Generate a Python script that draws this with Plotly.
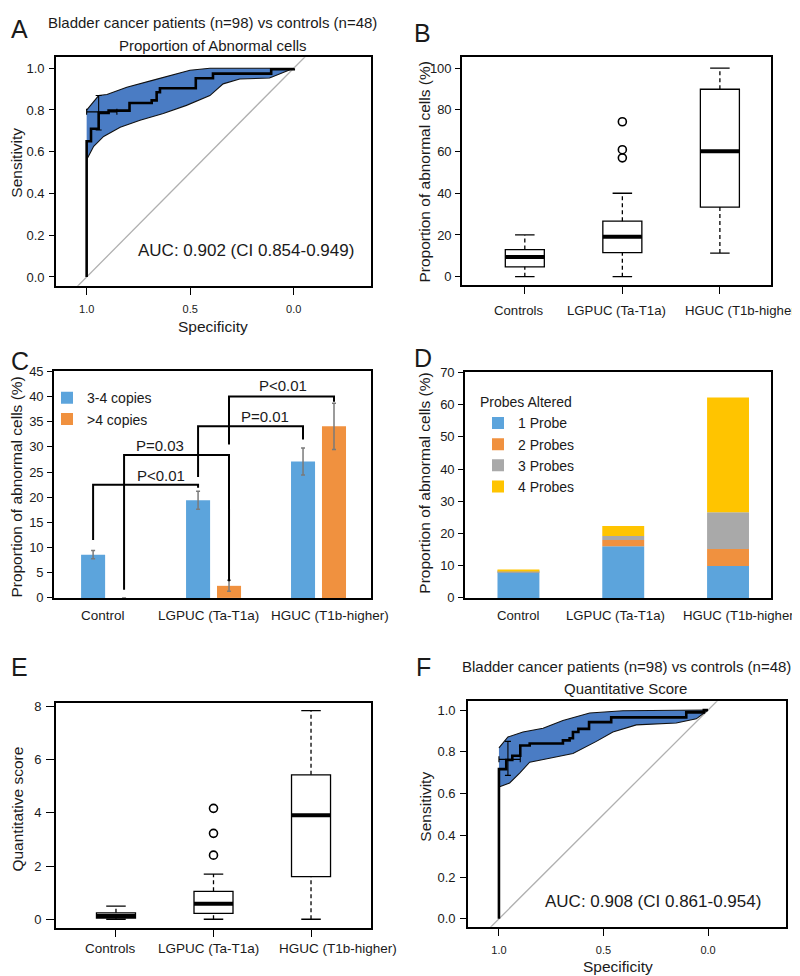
import plotly.graph_objects as go

W, H = 800, 976
FONT = "Liberation Sans, Arial, Helvetica, sans-serif"
INK = "#1a1a1a"

# ---------------- DATA ----------------
# Panel A: ROC, proportion of abnormal cells (specificity, sensitivity)
roc_a_spec = [1.0, 0.979, 0.942, 0.894, 0.793, 0.686, 0.662, 0.646, 0.473, 0.39, 0.109, 0.0, 0.0]
roc_a_sens = [0.0, 0.65, 0.71, 0.786, 0.797, 0.833, 0.846, 0.885, 0.904, 0.952, 0.974, 0.995, 1.0]
ci_a_up_spec = [1.0, 0.942, 0.902, 0.806, 0.678, 0.582, 0.501, 0.405, 0.0]
ci_a_up_sens = [0.799, 0.869, 0.874, 0.909, 0.943, 0.968, 0.99, 1.0, 1.0]
ci_a_lo_spec = [1.0, 0.966, 0.918, 0.838, 0.742, 0.63, 0.518, 0.405, 0.341, 0.261, 0.117, 0.0]
ci_a_lo_sens = [0.562, 0.626, 0.673, 0.717, 0.751, 0.783, 0.822, 0.869, 0.925, 0.948, 0.953, 1.0]
cross_a = dict(spec=0.942, sens=0.791, spec_lo=0.854, spec_hi=1.0, sens_lo=0.704, sens_hi=0.869)
auc_a = "AUC: 0.902 (CI 0.854-0.949)"

# Panel F: ROC, quantitative score
roc_f_spec = [1.0, 0.965, 0.936, 0.898, 0.853, 0.694, 0.662, 0.646, 0.62, 0.569, 0.463, 0.104, 0.02, 0.0]
roc_f_sens = [0.0, 0.717, 0.761, 0.781, 0.83, 0.840, 0.855, 0.865, 0.895, 0.91, 0.942, 0.965, 0.989, 1.0]
ci_f_up_spec = [1.0, 0.957, 0.885, 0.789, 0.694, 0.566, 0.407, 0.0]
ci_f_up_sens = [0.819, 0.871, 0.895, 0.913, 0.95, 0.986, 0.997, 1.0]
ci_f_lo_spec = [1.0, 0.949, 0.901, 0.853, 0.758, 0.646, 0.534, 0.455, 0.343, 0.152, 0.056, 0.0]
ci_f_lo_sens = [0.631, 0.651, 0.698, 0.75, 0.769, 0.792, 0.85, 0.895, 0.929, 0.938, 0.958, 1.0]
cross_f = dict(spec=0.957, sens=0.764, spec_lo=0.898, spec_hi=1.0, sens_lo=0.687, sens_hi=0.85)
auc_f = "AUC: 0.908 (CI 0.861-0.954)"

roc_title_1 = "Bladder cancer patients (n=98) vs controls (n=48)"
roc_a_title_2 = "Proportion of Abnormal cells"
roc_f_title_2 = "Quantitative Score"

# Box plots
box_groups = ["Controls", "LGPUC (Ta-T1a)", "HGUC (T1b-higher)"]
# Panel B: proportion of abnormal cells (%)
b_low = [0.0, 0.0, 11.3]
b_q1 = [4.7, 11.5, 33.4]
b_med = [9.4, 19.1, 60.2]
b_q3 = [13.0, 26.6, 89.9]
b_high = [20.0, 40.0, 100.0]
b_out = [[], [74.3, 60.9, 57.0], []]
# Panel E: quantitative score
e_low = [0.0, 0.0, 0.0]
e_q1 = [0.04, 0.22, 1.60]
e_med = [0.12, 0.58, 3.91]
e_q3 = [0.24, 1.05, 5.43]
e_high = [0.49, 1.70, 7.84]
e_out = [[], [2.41, 3.23, 4.17], []]

# Panel C: copies
bar_groups = ["Control", "LGPUC (Ta-T1a)", "HGUC (T1b-higher)"]
c_34 = [8.6, 19.4, 27.1]
c_34_err = [0.8, 1.8, 2.7]
c_gt4 = [0.0, 2.4, 34.1]
c_gt4_err = [0.0, 1.1, 4.6]
# brackets: (left group, left series, left foot, top, right group, right series, right foot, label, label x, label y)
brackets = [
    (0, "34", 11.5, 22.5, 1, "34", 21.9, "P<0.01", 0.50, 24.4),
    (0, "gt4", 1.6, 28.4, 1, "gt4", 3.3, "P=0.03", 0.49, 30.3),
    (1, "34", 24.0, 34.1, 2, "34", 31.5, "P=0.01", 1.49, 36.1),
    (1, "gt4", 30.5, 40.0, 2, "gt4", 39.0, "P<0.01", 1.66, 42.3),
]

# Panel D: probes altered (stacked)
d_names = ["1 Probe", "2 Probes", "3 Probes", "4 Probes"]
d_vals = [
    [8.1, 16.0, 9.9],
    [0.1, 2.0, 5.3],
    [0.1, 1.2, 11.4],
    [0.4, 3.1, 35.6],
]

# ---------------- STYLE ----------------
BAND = "#4A7CC4"
BLUE = "#5CA4DC"
ORANGE = "#F0913F"
GRAY = "#A9A9A9"
YELLOW = "#FFC400"
d_colors = [BLUE, ORANGE, GRAY, YELLOW]
C_W = 0.229
C_OFF = {"34": -0.262, "gt4": 0.033}
# horizontal placement nudges of the category labels (category units), as in the source figure
LBL_SHIFT_B = [-0.06, -0.056, 0.23]
LBL_SHIFT_E = [-0.06, -0.056, 0.28]
LBL_SHIFT_C = [-0.052, -0.052, 0.105]
LBL_SHIFT_D = [0.0, -0.07, 0.12]

fig = go.Figure()


def roc(ax, ay, spec, sens, up_s, up_v, lo_s, lo_v, cross, auc, auc_xy):
    fig.add_trace(go.Scatter(x=[1.3, -0.3], y=[-0.3, 1.3], mode="lines",
                             line=dict(color="#b0b0b0", width=1.3),
                             xaxis=ax, yaxis=ay, showlegend=False, hoverinfo="skip"))
    fig.add_trace(go.Scatter(x=up_s + lo_s[::-1], y=up_v + lo_v[::-1], mode="lines",
                             fill="toself", fillcolor=BAND,
                             line=dict(color="#111", width=1.1),
                             xaxis=ax, yaxis=ay, showlegend=False, hoverinfo="skip"))
    fig.add_trace(go.Scatter(x=spec, y=sens, mode="lines", line=dict(color="#000", width=2.6, shape="vh"),
                             xaxis=ax, yaxis=ay, showlegend=False))
    fig.add_trace(go.Scatter(
        x=[cross["spec"]], y=[cross["sens"]], mode="markers",
        marker=dict(size=1, color="#000"),
        error_x=dict(type="data", symmetric=False,
                     array=[cross["spec_hi"] - cross["spec"]],
                     arrayminus=[cross["spec"] - cross["spec_lo"]],
                     color="#000", thickness=1.1, width=3),
        error_y=dict(type="data", symmetric=False,
                     array=[cross["sens_hi"] - cross["sens"]],
                     arrayminus=[cross["sens"] - cross["sens_lo"]],
                     color="#000", thickness=1.1, width=3),
        xaxis=ax, yaxis=ay, showlegend=False))
    fig.add_annotation(x=auc_xy[0], y=auc_xy[1], xref=ax, yref=ay, text=auc, showarrow=False,
                       font=dict(size=17, color=INK, family=FONT))


roc("x", "y", roc_a_spec, roc_a_sens, ci_a_up_spec, ci_a_up_sens, ci_a_lo_spec, ci_a_lo_sens,
    cross_a, auc_a, (0.231, 0.127))
roc("x6", "y6", roc_f_spec, roc_f_sens, ci_f_up_spec, ci_f_up_sens, ci_f_lo_spec, ci_f_lo_sens,
    cross_f, auc_f, (0.261, 0.085))

BOX_HALF = 0.2
CAP_HALF = 0.1


def boxes(ax, ay, low, q1, med, q3, high, outs):
    pos = [1, 2, 3]
    fig.add_trace(go.Box(x=pos, q1=q1, median=med, q3=q3, lowerfence=q1, upperfence=q3,
                         width=2 * BOX_HALF, fillcolor="white", line=dict(color="#000", width=1.3),
                         boxpoints=False, xaxis=ax, yaxis=ay, showlegend=False))
    mx, my, wx, wy, cx, cy, ox, oy = [], [], [], [], [], [], [], []
    for p, lo, a, m, b, hi, o in zip(pos, low, q1, med, q3, high, outs):
        mx += [p - BOX_HALF, p + BOX_HALF, None]
        my += [m, m, None]
        wx += [p, p, None, p, p, None]
        wy += [lo, a, None, b, hi, None]
        cx += [p - CAP_HALF, p + CAP_HALF, None, p - CAP_HALF, p + CAP_HALF, None]
        cy += [lo, lo, None, hi, hi, None]
        ox += [p] * len(o)
        oy += o
    fig.add_trace(go.Scatter(x=wx, y=wy, mode="lines", line=dict(color="#000", width=1.3, dash="4px,3px"),
                             xaxis=ax, yaxis=ay, showlegend=False, hoverinfo="skip"))
    fig.add_trace(go.Scatter(x=cx, y=cy, mode="lines", line=dict(color="#000", width=1.3),
                             xaxis=ax, yaxis=ay, showlegend=False, hoverinfo="skip"))
    fig.add_trace(go.Scatter(x=mx, y=my, mode="lines", line=dict(color="#000", width=4),
                             xaxis=ax, yaxis=ay, showlegend=False, hoverinfo="skip"))
    fig.add_trace(go.Scatter(x=ox, y=oy, mode="markers",
                             marker=dict(symbol="circle-open", size=8, color="#000", line=dict(width=1.6)),
                             xaxis=ax, yaxis=ay, showlegend=False))


boxes("x2", "y2", b_low, b_q1, b_med, b_q3, b_high, b_out)
boxes("x5", "y5", e_low, e_q1, e_med, e_q3, e_high, e_out)

# Panel C bars
gpos = [0, 1, 2]
fig.add_trace(go.Bar(x=gpos, y=c_34, width=C_W, offset=C_OFF["34"], name="3-4 copies",
                     marker=dict(color=BLUE, line=dict(width=0)),
                     error_y=dict(type="data", array=c_34_err, color="#7a7a7a", thickness=1.5, width=2),
                     xaxis="x3", yaxis="y3", legend="legend"))
fig.add_trace(go.Bar(x=gpos, y=c_gt4, width=C_W, offset=C_OFF["gt4"], name=">4 copies",
                     marker=dict(color=ORANGE, line=dict(width=0)),
                     error_y=dict(type="data", array=c_gt4_err, color="#7a7a7a", thickness=1.5, width=2),
                     xaxis="x3", yaxis="y3", legend="legend"))
bx, by = [], []
for lg, ls, lf, top, rg, rs, rf, lab, labx, laby in brackets:
    xl = lg + C_OFF[ls] + C_W / 2
    xr = rg + C_OFF[rs] + C_W / 2
    bx += [xl, xl, xr, xr, None]
    by += [lf, top, top, rf, None]
    fig.add_annotation(x=labx, y=laby, xref="x3", yref="y3", text=lab, showarrow=False,
                       font=dict(size=15, color=INK, family=FONT))
fig.add_trace(go.Scatter(x=bx, y=by, mode="lines", line=dict(color="#000", width=2),
                         xaxis="x3", yaxis="y3", showlegend=False, hoverinfo="skip"))

# Panel D stacked bars
base = [0.0, 0.0, 0.0]
for name, vals, col in zip(d_names, d_vals, d_colors):
    fig.add_trace(go.Bar(x=gpos, y=vals, base=list(base), width=0.4, offset=-0.2, name=name,
                         marker=dict(color=col, line=dict(width=0)),
                         xaxis="x4", yaxis="y4", legend="legend2"))
    base = [b + v for b, v in zip(base, vals)]

# ---------------- LAYOUT ----------------
def dom_x(a, b):
    return [a / W, b / W]


def dom_y(top, bot):
    return [1 - bot / H, 1 - top / H]


frame = dict(showline=True, mirror=True, linecolor="#000", linewidth=1.6, showgrid=False,
             zeroline=False, tickcolor="#000", tickwidth=1.3, color=INK, tickangle=0)

roc_ticks = [0.0, 0.2, 0.4, 0.6, 0.8, 1.0]
layout = dict(
    width=W, height=H, margin=dict(l=0, r=0, t=0, b=0),
    paper_bgcolor="white", plot_bgcolor="white",
    font=dict(family=FONT, color=INK),
    barmode="overlay",
    xaxis=dict(frame, domain=dom_x(48, 363), anchor="y", range=[1.148, -0.373],
               tickvals=[1.0, 0.5, 0.0], ticktext=["1.0", "0.5", "0.0"], ticks="outside", ticklen=7,
               tickfont=dict(size=11), ticklabelstandoff=5),
    yaxis=dict(frame, domain=dom_y(43, 275), anchor="x", range=[-0.042, 1.052],
               tickvals=roc_ticks, ticktext=[f"{v:.1f}" for v in roc_ticks], ticks="outside",
               ticklen=5, tickfont=dict(size=13), ticklabelstandoff=2),
    xaxis2=dict(frame, domain=dom_x(454, 763), anchor="y2", range=[0.356, 3.524],
                tickvals=[1, 2, 3], ticks="outside", ticklen=7, showticklabels=False),
    yaxis2=dict(frame, domain=dom_y(43, 274), anchor="x2", range=[-3.9, 105.2],
                tickvals=[0, 20, 40, 60, 80, 100], ticks="outside", ticklen=5,
                tickfont=dict(size=13), ticklabelstandoff=1),
    xaxis3=dict(frame, domain=dom_x(46, 363), anchor="y3", range=[-0.52, 2.5],
                tickvals=gpos, ticks="", showticklabels=False),
    yaxis3=dict(frame, domain=dom_y(362, 592), anchor="x3", range=[0, 45], dtick=5,
                ticks="outside", ticklen=5, tickfont=dict(size=13), ticklabelstandoff=1),
    xaxis4=dict(frame, domain=dom_x(457, 763), anchor="y4", range=[-0.51, 2.41],
                tickvals=gpos, ticks="", showticklabels=False),
    yaxis4=dict(frame, domain=dom_y(363, 592), anchor="x4", range=[0, 70], dtick=10,
                ticks="outside", ticklen=5, tickfont=dict(size=13), ticklabelstandoff=1),
    xaxis5=dict(frame, domain=dom_x(48, 363), anchor="y5", range=[0.385, 3.615],
                tickvals=[1, 2, 3], ticks="outside", ticklen=7, showticklabels=False),
    yaxis5=dict(frame, domain=dom_y(699, 927), anchor="x5", range=[-0.32, 8.12],
                tickvals=[0, 2, 4, 6, 8], ticks="outside", ticklen=8,
                tickfont=dict(size=13), ticklabelstandoff=2),
    xaxis6=dict(frame, domain=dom_x(460, 778), anchor="y6", range=[1.148, -0.373],
                tickvals=[1.0, 0.5, 0.0], ticktext=["1.0", "0.5", "0.0"], ticks="outside", ticklen=7,
                tickfont=dict(size=11), ticklabelstandoff=5),
    yaxis6=dict(frame, domain=dom_y(697, 926), anchor="x6", range=[-0.038, 1.042],
                tickvals=roc_ticks, ticktext=[f"{v:.1f}" for v in roc_ticks], ticks="outside",
                ticklen=6, tickfont=dict(size=13), ticklabelstandoff=2),
    legend=dict(x=39 / W, y=1 - 373 / H, xanchor="left", yanchor="top", bgcolor="rgba(0,0,0,0)",
                font=dict(size=14), traceorder="normal", tracegroupgap=0),
    legend2=dict(x=470 / W, y=1 - 380 / H, xanchor="left", yanchor="top", bgcolor="rgba(0,0,0,0)",
                 font=dict(size=14), traceorder="normal",
                 title=dict(text="Probes Altered", font=dict(size=14))),
)
fig.update_layout(**layout)


def note(X, Y, text, size, angle=0, xanchor="center"):
    fig.add_annotation(x=X / W, y=1 - Y / H, xref="paper", yref="paper", text=text, showarrow=False,
                       textangle=angle, xanchor=xanchor, yanchor="middle",
                       font=dict(size=size, color=INK, family=FONT))


def cat_labels(xref, Y, positions, labels, shifts, size=13.5):
    for p, t, s in zip(positions, labels, shifts):
        fig.add_annotation(x=p + s, y=1 - Y / H, xref=xref, yref="paper", text=t, showarrow=False,
                           xanchor="center", yanchor="middle",
                           font=dict(size=size, color=INK, family=FONT))


cat_labels("x2", 300, [1, 2, 3], box_groups, LBL_SHIFT_B, 13.2)
cat_labels("x5", 948, [1, 2, 3], box_groups, LBL_SHIFT_E)
cat_labels("x3", 610, gpos, bar_groups, LBL_SHIFT_C)
cat_labels("x4", 610, gpos, bar_groups, LBL_SHIFT_D, 13.2)

# panel letters
for X, Y, t in [(1, 14, "A"), (404, 18, "B"), (1, 351, "C"), (404, 348, "D"), (1, 662, "E"), (406, 662, "F")]:
    note(X, Y, t, 25, xanchor="left")

# ROC titles
note(205, 8, roc_title_1, 15)
note(205, 31, roc_a_title_2, 15)
note(618, 662, roc_title_1, 15)
note(617, 684, roc_f_title_2, 15)

# axis titles
note(205, 316, "Specificity", 15.5)
note(610, 966, "Specificity", 15.5)
note(9, 150, "Sensitivity", 15.5, -90)
note(418, 804, "Sensitivity", 15.5, -90)
note(417, 160, "Proportion of abnormal cells (%)", 15.5, -90)
note(9, 480, "Proportion of abnormal cells (%)", 15.5, -90)
note(417, 476, "Proportion of abnormal cells (%)", 15.5, -90)
note(10, 807, "Quantitative score", 15.5, -90)

fig.write_html("out.html")
